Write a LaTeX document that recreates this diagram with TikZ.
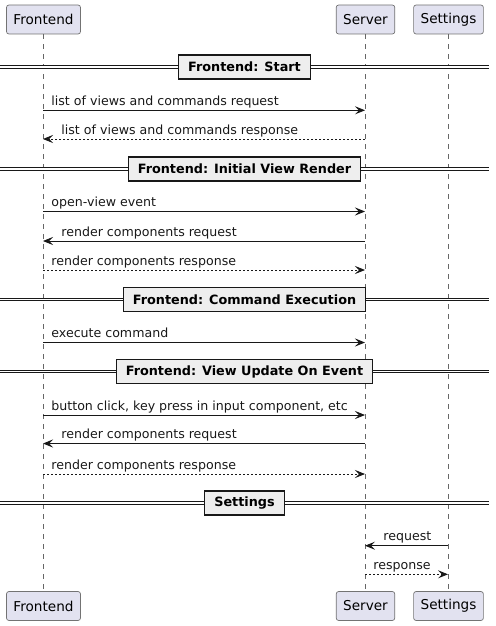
\documentclass[tikz,border=0pt]{standalone}
\usepackage{fontspec}
\setmainfont{DejaVu Sans}
\usetikzlibrary{arrows.meta}

\definecolor{partfill}{HTML}{E2E2F0}
\definecolor{divfill}{HTML}{EEEEEE}
\definecolor{ink}{HTML}{181818}

\tikzset{
  part/.style={draw=black!55, line width=0.7pt, fill=partfill, rounded corners=2.5pt,
    minimum height=29pt, inner xsep=7pt, font=\fontsize{13.6}{16}\selectfont},
  life/.style={draw=black!60, line width=0.5pt, dash pattern=on 5pt off 5pt},
  msg/.style={draw=ink, line width=0.8pt, -{Stealth[length=10pt,width=8pt,inset=4pt]}},
  reply/.style={msg, dash pattern=on 2pt off 2pt},
  lbl/.style={inner sep=0pt, text=ink, font=\fontsize{12.6}{15}\selectfont},
  divbox/.style={draw=ink, line width=1.4pt, fill=divfill, minimum height=24pt,
    inner xsep=9.5pt, font=\fontsize{12.8}{15}\selectfont\bfseries},
  divline/.style={draw=ink, double=white, line width=0.9pt, double distance=1.6pt}
}

\begin{document}
\begin{tikzpicture}[x=1pt,y=-1pt]
  \useasboundingbox (0,0) rectangle (495,626);

  % participants
  \node[part] (fe) at (43.5,19.5) {Frontend};
  \node[part] (sv) at (365.5,19.5) {Server};
  \node[part] (st) at (448.5,19.5) {Settings};
  \node[part] (fe2) at (43.5,606) {Frontend};
  \node[part] (sv2) at (365.5,606) {Server};
  \node[part] (st2) at (448.5,606) {Settings};
  \draw[life] (fe) -- (fe2);
  \draw[life] (sv) -- (sv2);
  \draw[life] (st) -- (st2);

  % points on the lifelines
  \foreach \n/\y in {a/110.3,b/139,c/211.5,d/241,e/270,f/342.5,g/415,h/443.5,i/474,j/545.7,k/574.3}{
    \coordinate (fe\n) at (43,\y);
    \coordinate (sv\n) at (365,\y);
    \coordinate (st\n) at (448,\y);
  }

  % dividers
  \foreach \n/\y/\t in {1/67/{Frontend: Start},2/169/{Frontend: Initial View Render},
      3/299.3/{Frontend: Command Execution},4/371.5/{Frontend: View Update On Event},
      5/503/{Settings}}{
    \coordinate (dl\n) at (0,\y);
    \coordinate (dr\n) at (489,\y);
    \node[divbox] (dv\n) at (244.5,\y) {\t};
    \draw[divline] (dl\n) -- (dv\n);
    \draw[divline] (dv\n) -- (dr\n);
  }

  % Frontend: Start
  \draw[msg] (fea) -- (sva) node[lbl, pos=0, anchor=base west, xshift=8pt, yshift=5pt] (la) {list of views and commands request};
  \draw[reply] (svb) -- (feb) node[lbl, pos=1, anchor=base west, xshift=18pt, yshift=5pt] (lb) {list of views and commands response};

  % Frontend: Initial View Render
  \draw[msg] (fec) -- (svc) node[lbl, pos=0, anchor=base west, xshift=8pt, yshift=5pt] (lc) {open-view event};
  \draw[msg] (svd) -- (fed) node[lbl, pos=1, anchor=base west, xshift=18pt, yshift=5pt] (ld) {render components request};
  \draw[reply] (fee) -- (sve) node[lbl, pos=0, anchor=base west, xshift=8pt, yshift=5pt] (le) {render components response};

  % Frontend: Command Execution
  \draw[msg] (fef) -- (svf) node[lbl, pos=0, anchor=base west, xshift=8pt, yshift=5pt] (lf) {execute command};

  % Frontend: View Update On Event
  \draw[msg] (feg) -- (svg) node[lbl, pos=0, anchor=base west, xshift=8pt, yshift=5pt] (lg) {button click, key press in input component, etc};
  \draw[msg] (svh) -- (feh) node[lbl, pos=1, anchor=base west, xshift=18pt, yshift=5pt] (lh) {render components request};
  \draw[reply] (fei) -- (svi) node[lbl, pos=0, anchor=base west, xshift=8pt, yshift=5pt] (li) {render components response};

  % Settings
  \draw[msg] (stj) -- (svj) node[lbl, pos=1, anchor=base west, xshift=18pt, yshift=5pt] (lj) {request};
  \draw[reply] (svk) -- (stk) node[lbl, pos=0, anchor=base west, xshift=8pt, yshift=5pt] (lk) {response};
\end{tikzpicture}
\end{document}
